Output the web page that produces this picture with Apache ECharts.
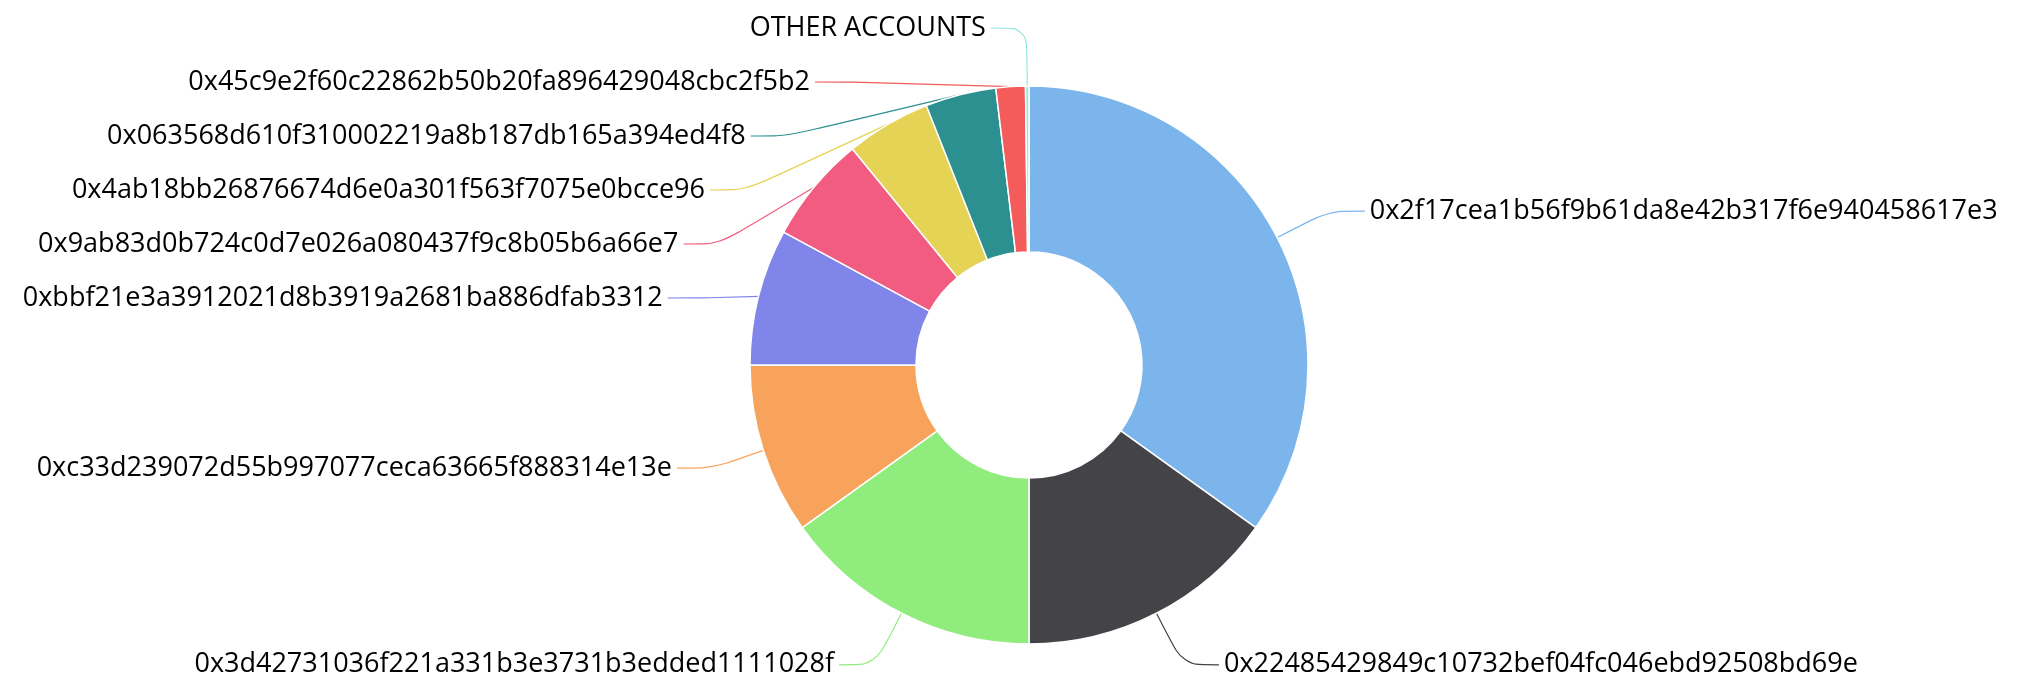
<!DOCTYPE html>
<html>
<head>
<meta charset="utf-8">
<script src="https://cdn.jsdelivr.net/npm/echarts@6/dist/echarts.min.js"></script>
<style>
  html, body { margin: 0; padding: 0; background: #fff; }
  #chart { width: 2017px; height: 695px; }
</style>
</head>
<body>
<div id="chart"></div>
<script>
// account addresses, clockwise from 12 o'clock
const accounts = [
  '0x2f17cea1b56f9b61da8e42b317f6e940458617e3',
  '0x22485429849c10732bef04fc046ebd92508bd69e',
  '0x3d42731036f221a331b3e3731b3edded1111028f',
  '0xc33d239072d55b997077ceca63665f888314e13e',
  '0xbbf21e3a3912021d8b3919a2681ba886dfab3312',
  '0x9ab83d0b724c0d7e026a080437f9c8b05b6a66e7',
  '0x4ab18bb26876674d6e0a301f563f7075e0bcce96',
  '0x063568d610f310002219a8b187db165a394ed4f8',
  '0x45c9e2f60c22862b50b20fa896429048cbc2f5b2',
  'OTHER ACCOUNTS'
]
// share of total, percent
const shares = [34.9, 15.1, 15.1, 9.9, 7.9, 6.2, 4.9, 4.1, 1.7, 0.2]

const colors = ['#7cb5ec', '#434348', '#90ed7d', '#f7a35c', '#8085e9',
  '#f15c80', '#e4d354', '#2b908f', '#f45b5b', '#91e8e1']

const chart = echarts.init(document.getElementById('chart'))

chart.setOption({
  animation: false,
  color: colors,
  series: [
    {
      type: 'pie',
      center: [1029, 365],
      radius: [113, 279],
      startAngle: 90,
      clockwise: true,
      avoidLabelOverlap: true,
      itemStyle: { borderColor: '#fff', borderWidth: 1.5 },
      label: {
        show: true,
        color: '#000',
        fontFamily: '"Open Sans", sans-serif',
        fontSize: 27,
        lineHeight: 52,
        formatter: '{b}'
      },
      labelLine: {
        show: true,
        length: 58,
        length2: 36,
        smooth: 0.3,
        lineStyle: { width: 1.2 }
      },
      data: accounts.map((name, i) => ({ name, value: shares[i] }))
    }
  ]
})
</script>
</body>
</html>
